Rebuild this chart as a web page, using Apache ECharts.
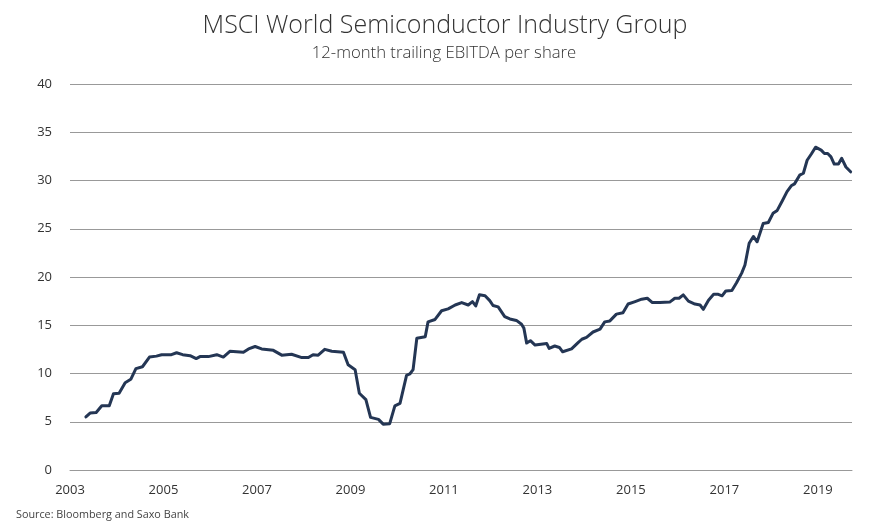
<!DOCTYPE html>
<html>
<head>
<meta charset="utf-8">
<script src="https://cdn.jsdelivr.net/npm/echarts@6/dist/echarts.min.js"></script>
<style>html,body{margin:0;padding:0;background:#fff}#c{width:874px;height:531px}</style>
</head>
<body>
<div id="c"></div>
<script>
var titleText = 'MSCI World Semiconductor Industry Group';
var subtitleText = '12-month trailing EBITDA per share';
var sourceText = 'Source: Bloomberg and Saxo Bank';
var yTicks = [0, 5, 10, 15, 20, 25, 30, 35, 40];
var xTicks = [2003, 2005, 2007, 2009, 2011, 2013, 2015, 2017, 2019];
var dates = [2003.34,2003.43,2003.56,2003.68,2003.84,2003.93,2004.05,2004.18,2004.3,2004.41,2004.55,2004.7,2004.85,2004.96,2005.17,2005.28,2005.41,2005.57,2005.7,2005.78,2005.96,2006.14,2006.28,2006.42,2006.71,2006.82,2006.96,2007.1,2007.35,2007.53,2007.74,2007.96,2008.1,2008.2,2008.31,2008.45,2008.6,2008.85,2008.95,2009.1,2009.19,2009.33,2009.43,2009.6,2009.7,2009.84,2009.95,2010.06,2010.2,2010.27,2010.34,2010.42,2010.6,2010.66,2010.81,2010.95,2011.09,2011.24,2011.38,2011.52,2011.61,2011.68,2011.76,2011.88,2011.98,2012.05,2012.16,2012.3,2012.41,2012.55,2012.66,2012.71,2012.77,2012.85,2012.95,2013.2,2013.25,2013.37,2013.47,2013.54,2013.73,2013.87,2013.95,2014.05,2014.19,2014.34,2014.44,2014.55,2014.69,2014.83,2014.94,2015.09,2015.23,2015.35,2015.46,2015.62,2015.83,2015.94,2016.03,2016.12,2016.23,2016.37,2016.48,2016.55,2016.66,2016.77,2016.87,2016.95,2017.03,2017.16,2017.26,2017.37,2017.44,2017.53,2017.62,2017.7,2017.83,2017.94,2018.04,2018.13,2018.24,2018.34,2018.43,2018.5,2018.61,2018.69,2018.77,2018.86,2018.95,2019.07,2019.14,2019.21,2019.28,2019.35,2019.44,2019.51,2019.6,2019.7];
var values = [5.5,5.9,5.95,6.65,6.65,7.9,7.95,9.05,9.4,10.5,10.7,11.7,11.8,11.95,11.95,12.15,11.95,11.85,11.55,11.75,11.75,11.95,11.7,12.3,12.2,12.55,12.8,12.55,12.4,11.9,12.0,11.65,11.65,11.95,11.9,12.5,12.3,12.2,10.9,10.4,7.95,7.3,5.45,5.25,4.75,4.8,6.65,6.9,9.8,9.95,10.4,13.65,13.8,15.35,15.6,16.5,16.7,17.1,17.35,17.1,17.45,17.0,18.15,18.05,17.55,17.05,16.9,15.9,15.65,15.5,15.1,14.7,13.15,13.4,12.95,13.1,12.6,12.85,12.7,12.25,12.55,13.2,13.55,13.75,14.3,14.6,15.35,15.45,16.15,16.3,17.2,17.45,17.7,17.8,17.35,17.35,17.4,17.8,17.8,18.15,17.5,17.2,17.1,16.65,17.6,18.2,18.2,18.05,18.55,18.6,19.4,20.4,21.25,23.5,24.2,23.65,25.55,25.65,26.6,26.9,27.9,28.85,29.45,29.65,30.55,30.75,32.1,32.75,33.45,33.15,32.8,32.8,32.45,31.7,31.7,32.3,31.4,30.9];

var seriesData = dates.map(function (d, i) { return [d, values[i]]; });
var chart = echarts.init(document.getElementById('c'), null, {renderer: 'canvas'});
var font = '"Open Sans", sans-serif';
chart.setOption({
  animation: false,
  backgroundColor: '#fff',
  graphic: [
    {type: 'text', x: 445, y: 26, style: {text: titleText, align: 'center', verticalAlign: 'middle', font: '300 25px "Open Sans", sans-serif', fill: '#333'}},
    {type: 'text', x: 444, y: 53, style: {text: subtitleText, align: 'center', verticalAlign: 'middle', font: '300 16.7px "Open Sans", sans-serif', fill: '#333'}},
    {type: 'text', x: 16, y: 515, style: {text: sourceText, align: 'left', verticalAlign: 'middle', font: '10.8px "Open Sans", sans-serif', fill: '#444'}}
  ],
  grid: {left: 70, right: 22, top: 84, bottom: 61, containLabel: false},
  xAxis: {
    type: 'value', min: xTicks[0], max: 2019.73, interval: 2,
    axisLine: {show: true, lineStyle: {color: '#999', width: 1}},
    axisTick: {show: false},
    splitLine: {show: false},
    axisLabel: {
      margin: 14, fontFamily: font, fontSize: 13, color: '#333', showMaxLabel: false,
      formatter: function (v) { return xTicks.indexOf(Math.round(v)) >= 0 && Math.abs(v - Math.round(v)) < 1e-6 ? String(Math.round(v)) : ''; }
    }
  },
  yAxis: {
    type: 'value', min: yTicks[0], max: yTicks[yTicks.length - 1], interval: 5,
    axisLine: {show: false}, axisTick: {show: false},
    splitLine: {show: true, lineStyle: {color: '#999', width: 1}},
    axisLabel: {margin: 18, fontFamily: font, fontSize: 13, color: '#333'}
  },
  series: [{
    type: 'line', data: seriesData, showSymbol: false, smooth: false,
    lineStyle: {color: '#243654', width: 3, join: 'round', cap: 'round'}
  }]
});
</script>
</body>
</html>
